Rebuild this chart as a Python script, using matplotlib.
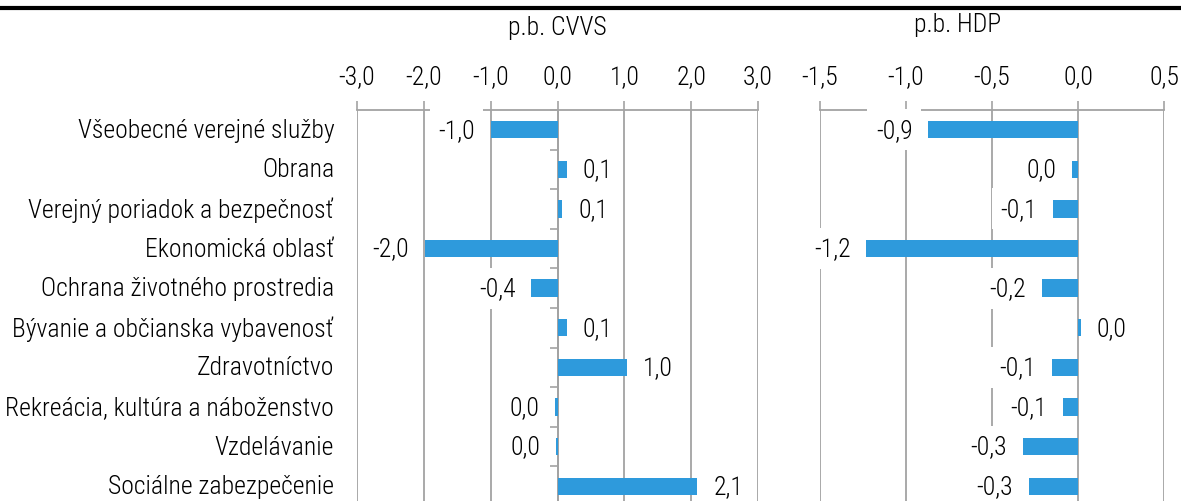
import numpy as np
import matplotlib.pyplot as plt
from matplotlib.lines import Line2D
from matplotlib import font_manager

# narrow sans like the original (Arial Narrow); fall back to what is installed
installed = {f.name for f in font_manager.fontManager.ttflist}
wanted = ['Liberation Sans Narrow', 'Arial Narrow', 'Roboto Condensed', 'Archivo Narrow',
          'Liberation Sans', 'DejaVu Sans']
plt.rcParams['font.family'] = [f for f in wanted if f in installed] or ['DejaVu Sans']
plt.rcParams['font.weight'] = 'light'

categories = ['Všeobecné verejné služby', 'Obrana', 'Verejný poriadok a bezpečnosť',
              'Ekonomická oblasť', 'Ochrana životného prostredia',
              'Bývanie a občianska vybavenosť', 'Zdravotníctvo',
              'Rekreácia, kultúra a náboženstvo', 'Vzdelávanie', 'Sociálne zabezpečenie']
cvvs = [-1.00, 0.14, 0.07, -1.99, -0.39, 0.14, 1.04, -0.03, -0.015, 2.09]
hdp = [-0.87, -0.033, -0.147, -1.23, -0.21, 0.017, -0.15, -0.09, -0.32, -0.285]

cvvs_ticks = [-3, -2, -1, 0, 1, 2, 3]
hdp_ticks = [-1.5, -1.0, -0.5, 0.0, 0.5]

BLUE = '#2E9ADC'
GRID = '#A3A3A3'
FS = 18.5


def fmt(v):
    s = f"{v:.1f}"
    if s == "-0.0":
        s = "0.0"
    return s.replace('.', ',')


fig = plt.figure(figsize=(11.81, 5.02), dpi=100)
ax1 = fig.add_axes([357 / 1181, -0.01, 401 / 1181, 0.789])
ax2 = fig.add_axes([820 / 1181, -0.01, 344 / 1181, 0.789])

y = np.arange(len(categories))

for ax, vals, ticks in [(ax1, cvvs, cvvs_ticks), (ax2, hdp, hdp_ticks)]:
    ax.barh(y, vals, height=0.44, color=BLUE, zorder=3)
    ax.set_xlim(ticks[0], ticks[-1])
    ax.set_ylim(len(categories) - 0.5, -0.5)
    ax.xaxis.tick_top()
    ax.set_xticks(ticks)
    ax.set_xticklabels([fmt(t) for t in ticks], fontsize=FS)
    ax.tick_params(axis='x', direction='out', length=6.5, width=1.2, color=GRID, pad=9)
    ax.grid(axis='x', color=GRID, lw=1.3, zorder=1)
    ax.set_axisbelow(True)
    for side in ['right', 'bottom']:
        ax.spines[side].set_visible(False)
    ax.spines['top'].set_color(GRID)
    ax.spines['top'].set_linewidth(1.3)
    for i, v in enumerate(vals):
        off = 11.5 if v >= 0 else -11.5
        ax.annotate(fmt(v), xy=(v, i), xytext=(off, 0), textcoords='offset points',
                    ha='left' if v >= 0 else 'right', va='center', fontsize=FS,
                    bbox=dict(boxstyle='square,pad=0.33', fc='white', ec='none'),
                    zorder=5, annotation_clip=False)

# left panel: vertical axis at zero with category ticks
ax1.spines['left'].set_position(('data', 0))
ax1.spines['left'].set_color(GRID)
ax1.spines['left'].set_linewidth(1.3)
ax1.set_yticks(np.arange(-0.5, len(categories), 1))
ax1.set_yticklabels([])
ax1.tick_params(axis='y', direction='out', length=6, width=1.2, color=GRID)

ax2.spines['left'].set_visible(False)
ax2.set_yticks([])

for i, c in enumerate(categories):
    ax1.text(-0.057, i, c, transform=ax1.get_yaxis_transform(), ha='right',
             va='center', fontsize=FS)

fig.text(557 / 1181, 1 - 28 / 502, 'p.b. CVVS', ha='center', va='center', fontsize=FS)
fig.text(958 / 1181, 1 - 25 / 502, 'p.b. HDP', ha='center', va='center', fontsize=FS)

fig.add_artist(Line2D([0, 1], [1 - 9 / 502, 1 - 9 / 502], color='black', lw=3,
                      transform=fig.transFigure))

fig.savefig('out.png', dpi=100)
